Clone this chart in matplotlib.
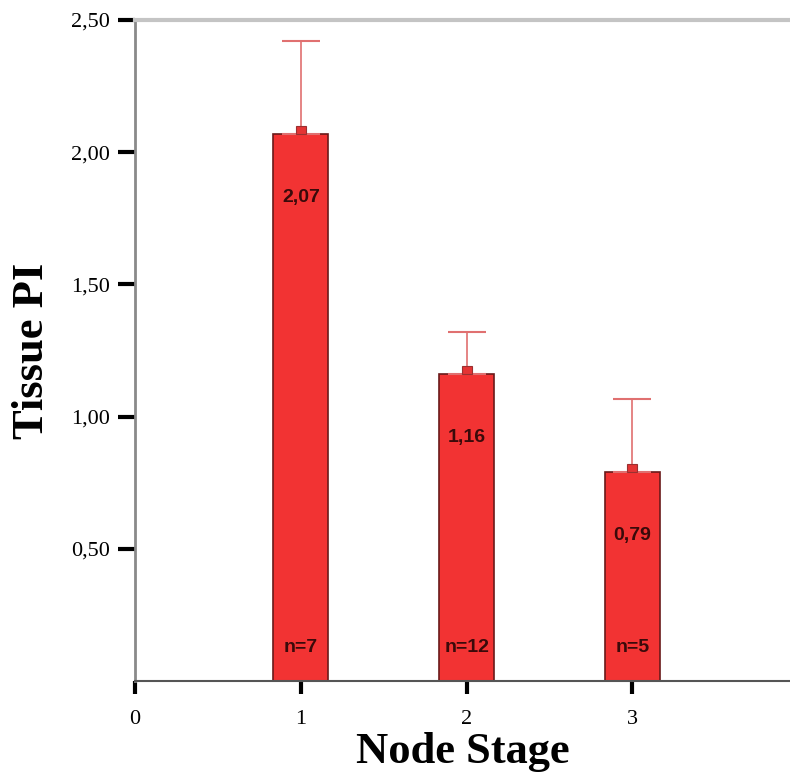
import matplotlib
matplotlib.use("Agg")
import matplotlib.pyplot as plt

stages = [1, 2, 3]
means = [2.07, 1.16, 0.79]
upper = [2.42, 1.32, 1.065]
counts = [7, 12, 5]
yticks = [0.5, 1.0, 1.5, 2.0, 2.5]
ytick_labels = ["0,50", "1,00", "1,50", "2,00", "2,50"]
xticks = [0, 1, 2, 3]
xtick_labels = ["0", "1", "2", "3"]

fig = plt.figure(figsize=(7.9, 7.77), dpi=100)
ax = fig.add_axes([0.1709, 0.1236, 0.8291, 0.8507])

bar_color = "#f23333"
edge_color = "#6a1a1a"
err_color = "#e07070"

ax.bar(stages, means, width=0.33, color=bar_color, edgecolor=edge_color, linewidth=1.2, zorder=2)
err = [u - m for u, m in zip(upper, means)]
ax.errorbar(stages, means, yerr=[[0]*3, err], fmt="none", ecolor=err_color,
            elinewidth=1.2, capsize=14, capthick=1.5, zorder=3)
# small bump at the base of each error bar
ax.bar(stages, [0.03]*3, bottom=means, width=0.06, color="#e43434",
       edgecolor="#9a3030", linewidth=0.8, zorder=4)

for x, m, n in zip(stages, means, counts):
    ax.text(x, m - 0.24, f"{m:.2f}".replace(".", ","), ha="center", va="center",
            fontsize=14, fontweight="bold", color="#3a0a0a", family="Liberation Sans", zorder=5)
    ax.text(x, 0.125, f"n={n}", ha="center", va="center",
            fontsize=14, fontweight="bold", color="#3a0a0a", family="Liberation Sans", zorder=5)

ax.set_xlim(0, 3.95)
ax.set_ylim(0, 2.5)
ax.set_yticks(yticks)
ax.set_yticklabels(ytick_labels, family="Liberation Serif", fontsize=16)
ax.set_xticks(xticks)
ax.set_xticklabels(xtick_labels, family="Liberation Serif", fontsize=16)
ax.tick_params(axis="y", direction="out", length=12, width=3, color="black", pad=6)
ax.tick_params(axis="x", direction="out", length=9, width=3, color="black", pad=12)

ax.spines["right"].set_visible(False)
ax.spines["top"].set_color("#c4c4c4")
ax.spines["top"].set_linewidth(3)
ax.spines["left"].set_color("#8a8a8a")
ax.spines["left"].set_linewidth(2)
ax.spines["bottom"].set_color("#555555")
ax.spines["bottom"].set_linewidth(1.5)

ax.set_ylabel("Tissue PI", family="Liberation Serif", fontsize=32, fontweight="bold", labelpad=14)
ax.set_xlabel("Node Stage", family="Liberation Serif", fontsize=32, fontweight="bold", labelpad=2)

fig.savefig("out.png", dpi=100)
